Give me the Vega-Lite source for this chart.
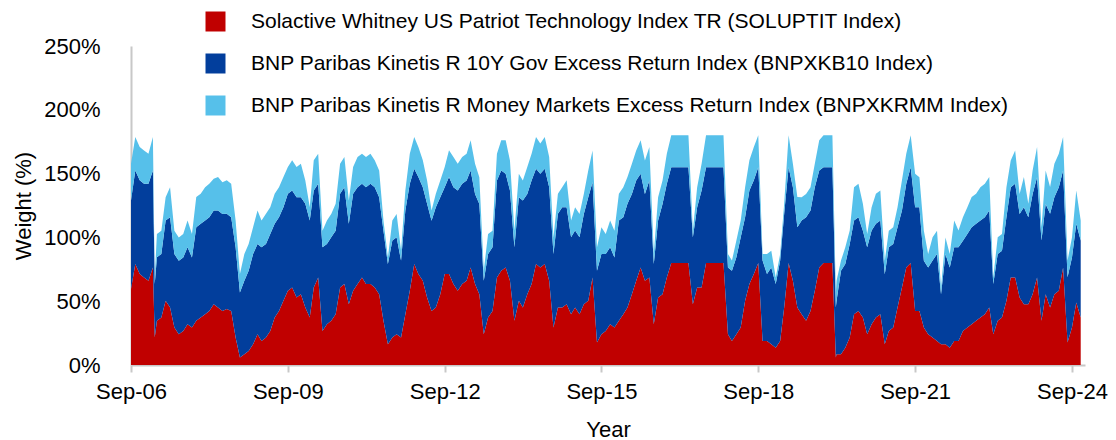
{
"$schema": "https://vega.github.io/schema/vega-lite/v6.json",
"width": 954, "height": 319,
"autosize": {"type": "none"},
"padding": {"left": 131, "top": 46, "right": 31, "bottom": 75},
"background": "white",
"config": {"view": {"stroke": null}, "font": "Liberation Sans"},
"data": {"values": [
{"d":"2006-09-01","w1":59.5,"w2":69.4,"w3":28.8},
{"d":"2006-10-01","w1":79.1,"w2":73.4,"w3":26.2},
{"d":"2006-11-01","w1":71.3,"w2":73.4,"w3":26.2},
{"d":"2006-12-01","w1":68.6,"w2":73.4,"w3":26.2},
{"d":"2007-01-01","w1":66.0,"w2":76.0,"w3":23.6},
{"d":"2007-02-01","w1":76.5,"w2":76.0,"w3":26.2},
{"d":"2007-02-14","w1":21.5,"w2":41.9,"w3":5.2},
{"d":"2007-03-01","w1":34.6,"w2":49.8,"w3":18.3},
{"d":"2007-04-01","w1":37.2,"w2":49.8,"w3":18.3},
{"d":"2007-05-01","w1":50.3,"w2":62.9,"w3":18.3},
{"d":"2007-06-01","w1":45.1,"w2":70.7,"w3":23.6},
{"d":"2007-07-01","w1":29.3,"w2":57.6,"w3":18.3},
{"d":"2007-08-01","w1":24.1,"w2":57.6,"w3":18.3},
{"d":"2007-09-01","w1":26.7,"w2":57.6,"w3":18.3},
{"d":"2007-10-01","w1":32.0,"w2":60.3,"w3":21.0},
{"d":"2007-11-01","w1":29.3,"w2":55.0,"w3":18.3},
{"d":"2007-12-01","w1":34.6,"w2":73.4,"w3":23.6},
{"d":"2008-01-01","w1":37.2,"w2":73.4,"w3":23.6},
{"d":"2008-02-01","w1":39.8,"w2":73.4,"w3":26.2},
{"d":"2008-03-01","w1":42.4,"w2":73.4,"w3":26.2},
{"d":"2008-04-01","w1":47.7,"w2":73.4,"w3":24.9},
{"d":"2008-05-01","w1":45.1,"w2":76.0,"w3":26.2},
{"d":"2008-06-01","w1":42.4,"w2":76.0,"w3":24.9},
{"d":"2008-07-01","w1":43.8,"w2":74.7,"w3":26.2},
{"d":"2008-08-01","w1":42.4,"w2":73.4,"w3":26.2},
{"d":"2008-09-01","w1":21.5,"w2":70.7,"w3":21.0},
{"d":"2008-10-01","w1":5.8,"w2":51.1,"w3":14.4},
{"d":"2008-11-01","w1":8.4,"w2":57.6,"w3":21.0},
{"d":"2008-12-01","w1":11.0,"w2":62.9,"w3":21.0},
{"d":"2009-01-01","w1":16.2,"w2":70.7,"w3":21.0},
{"d":"2009-02-01","w1":24.1,"w2":70.7,"w3":26.2},
{"d":"2009-03-01","w1":18.9,"w2":73.4,"w3":21.0},
{"d":"2009-04-01","w1":21.5,"w2":73.4,"w3":23.6},
{"d":"2009-05-01","w1":26.7,"w2":76.0,"w3":21.0},
{"d":"2009-06-01","w1":37.2,"w2":73.4,"w3":23.6},
{"d":"2009-07-01","w1":42.4,"w2":73.4,"w3":23.6},
{"d":"2009-08-01","w1":50.3,"w2":73.4,"w3":23.6},
{"d":"2009-09-01","w1":58.2,"w2":76.0,"w3":21.0},
{"d":"2009-10-01","w1":60.8,"w2":76.0,"w3":23.6},
{"d":"2009-11-01","w1":52.9,"w2":78.6,"w3":23.6},
{"d":"2009-12-01","w1":55.5,"w2":76.0,"w3":26.2},
{"d":"2010-01-01","w1":45.1,"w2":81.2,"w3":18.3},
{"d":"2010-02-01","w1":37.2,"w2":76.0,"w3":10.5},
{"d":"2010-03-01","w1":60.8,"w2":76.0,"w3":23.6},
{"d":"2010-04-01","w1":68.6,"w2":73.4,"w3":23.6},
{"d":"2010-05-01","w1":26.7,"w2":65.5,"w3":13.1},
{"d":"2010-06-01","w1":32.0,"w2":62.9,"w3":18.3},
{"d":"2010-07-01","w1":34.6,"w2":65.5,"w3":18.3},
{"d":"2010-08-01","w1":39.8,"w2":65.5,"w3":21.0},
{"d":"2010-09-01","w1":60.8,"w2":73.4,"w3":23.6},
{"d":"2010-10-01","w1":63.4,"w2":76.0,"w3":23.6},
{"d":"2010-11-01","w1":47.7,"w2":62.9,"w3":18.3},
{"d":"2010-12-01","w1":58.2,"w2":76.0,"w3":21.0},
{"d":"2011-01-01","w1":63.4,"w2":76.0,"w3":23.6},
{"d":"2011-02-01","w1":68.6,"w2":73.4,"w3":23.6},
{"d":"2011-03-01","w1":63.4,"w2":76.0,"w3":23.6},
{"d":"2011-04-01","w1":63.4,"w2":78.6,"w3":23.6},
{"d":"2011-05-01","w1":60.8,"w2":78.6,"w3":21.0},
{"d":"2011-06-01","w1":55.5,"w2":76.0,"w3":21.0},
{"d":"2011-07-01","w1":34.6,"w2":70.7,"w3":7.9},
{"d":"2011-08-01","w1":16.2,"w2":62.9,"w3":5.2},
{"d":"2011-09-01","w1":21.5,"w2":76.0,"w3":15.7},
{"d":"2011-10-01","w1":24.1,"w2":76.0,"w3":18.3},
{"d":"2011-11-01","w1":21.5,"w2":60.3,"w3":7.9},
{"d":"2011-12-01","w1":39.8,"w2":81.2,"w3":15.7},
{"d":"2012-01-01","w1":58.2,"w2":83.8,"w3":23.6},
{"d":"2012-02-01","w1":79.1,"w2":74.7,"w3":24.9},
{"d":"2012-03-01","w1":71.3,"w2":76.0,"w3":23.6},
{"d":"2012-04-01","w1":66.0,"w2":73.4,"w3":21.0},
{"d":"2012-05-01","w1":52.9,"w2":73.4,"w3":18.3},
{"d":"2012-06-01","w1":42.4,"w2":70.7,"w3":7.9},
{"d":"2012-07-01","w1":45.1,"w2":78.6,"w3":10.5},
{"d":"2012-08-01","w1":55.5,"w2":76.0,"w3":13.1},
{"d":"2012-09-01","w1":71.3,"w2":68.1,"w3":15.7},
{"d":"2012-10-01","w1":71.3,"w2":76.0,"w3":21.0},
{"d":"2012-11-01","w1":63.4,"w2":76.0,"w3":23.6},
{"d":"2012-12-01","w1":58.2,"w2":78.6,"w3":21.0},
{"d":"2013-01-01","w1":63.4,"w2":78.6,"w3":21.0},
{"d":"2013-02-01","w1":66.0,"w2":78.6,"w3":21.0},
{"d":"2013-03-01","w1":76.5,"w2":76.0,"w3":23.6},
{"d":"2013-04-01","w1":63.4,"w2":70.7,"w3":23.6},
{"d":"2013-05-01","w1":55.5,"w2":70.7,"w3":21.0},
{"d":"2013-06-01","w1":24.1,"w2":41.9,"w3":7.9},
{"d":"2013-07-01","w1":37.2,"w2":49.8,"w3":15.7},
{"d":"2013-08-01","w1":42.4,"w2":49.8,"w3":13.1},
{"d":"2013-09-01","w1":68.6,"w2":76.0,"w3":21.0},
{"d":"2013-10-01","w1":73.9,"w2":78.6,"w3":23.6},
{"d":"2013-11-01","w1":76.5,"w2":73.4,"w3":26.2},
{"d":"2013-12-01","w1":66.0,"w2":70.7,"w3":23.6},
{"d":"2014-01-01","w1":34.6,"w2":57.6,"w3":13.1},
{"d":"2014-02-01","w1":50.3,"w2":81.2,"w3":18.3},
{"d":"2014-03-01","w1":45.1,"w2":83.8,"w3":15.7},
{"d":"2014-04-01","w1":55.5,"w2":78.6,"w3":21.0},
{"d":"2014-05-01","w1":63.4,"w2":81.2,"w3":21.0},
{"d":"2014-06-01","w1":79.1,"w2":74.7,"w3":24.9},
{"d":"2014-07-01","w1":76.5,"w2":73.4,"w3":23.6},
{"d":"2014-08-01","w1":79.1,"w2":74.7,"w3":24.9},
{"d":"2014-09-01","w1":66.0,"w2":73.4,"w3":23.6},
{"d":"2014-10-01","w1":29.3,"w2":57.6,"w3":13.1},
{"d":"2014-11-01","w1":45.1,"w2":73.4,"w3":15.7},
{"d":"2014-12-01","w1":45.1,"w2":78.6,"w3":15.7},
{"d":"2015-01-01","w1":47.7,"w2":76.0,"w3":21.0},
{"d":"2015-02-01","w1":39.8,"w2":60.3,"w3":13.1},
{"d":"2015-03-01","w1":45.1,"w2":60.3,"w3":18.3},
{"d":"2015-04-01","w1":39.8,"w2":60.3,"w3":18.3},
{"d":"2015-05-01","w1":47.7,"w2":70.7,"w3":15.7},
{"d":"2015-06-01","w1":50.3,"w2":81.2,"w3":21.0},
{"d":"2015-07-01","w1":68.6,"w2":74.7,"w3":24.9},
{"d":"2015-08-01","w1":17.6,"w2":56.3,"w3":18.3},
{"d":"2015-09-01","w1":24.1,"w2":62.9,"w3":21.0},
{"d":"2015-10-01","w1":26.7,"w2":60.3,"w3":15.7},
{"d":"2015-11-01","w1":32.0,"w2":60.3,"w3":21.0},
{"d":"2015-12-01","w1":29.3,"w2":55.0,"w3":21.0},
{"d":"2016-01-01","w1":34.6,"w2":78.6,"w3":21.0},
{"d":"2016-02-01","w1":39.8,"w2":76.0,"w3":23.6},
{"d":"2016-03-01","w1":45.1,"w2":81.2,"w3":21.0},
{"d":"2016-04-01","w1":55.5,"w2":78.6,"w3":23.6},
{"d":"2016-05-01","w1":66.0,"w2":78.6,"w3":23.6},
{"d":"2016-06-01","w1":76.5,"w2":73.4,"w3":26.2},
{"d":"2016-07-01","w1":66.0,"w2":68.1,"w3":26.2},
{"d":"2016-08-01","w1":68.6,"w2":76.0,"w3":26.2},
{"d":"2016-09-01","w1":32.0,"w2":47.2,"w3":7.9},
{"d":"2016-10-01","w1":52.9,"w2":60.3,"w3":18.3},
{"d":"2016-11-01","w1":55.5,"w2":70.7,"w3":18.3},
{"d":"2016-12-01","w1":68.6,"w2":73.4,"w3":23.6},
{"d":"2017-01-01","w1":80,"w2":75,"w3":25},
{"d":"2017-02-01","w1":80,"w2":75,"w3":25},
{"d":"2017-03-01","w1":80,"w2":75,"w3":25},
{"d":"2017-04-01","w1":80,"w2":75,"w3":25},
{"d":"2017-05-01","w1":80,"w2":75,"w3":25},
{"d":"2017-06-01","w1":47.7,"w2":52.4,"w3":5.2},
{"d":"2017-07-01","w1":60.8,"w2":62.9,"w3":15.7},
{"d":"2017-08-01","w1":60.8,"w2":76.0,"w3":21.0},
{"d":"2017-09-01","w1":80,"w2":75,"w3":25},
{"d":"2017-10-01","w1":80,"w2":75,"w3":25},
{"d":"2017-11-01","w1":80,"w2":75,"w3":25},
{"d":"2017-12-01","w1":80,"w2":75,"w3":25},
{"d":"2018-01-01","w1":80,"w2":75,"w3":25},
{"d":"2018-02-01","w1":24.1,"w2":52.4,"w3":10.5},
{"d":"2018-03-01","w1":18.9,"w2":55.0,"w3":7.9},
{"d":"2018-04-01","w1":24.1,"w2":60.3,"w3":13.1},
{"d":"2018-05-01","w1":29.3,"w2":70.7,"w3":13.1},
{"d":"2018-06-01","w1":50.3,"w2":65.5,"w3":23.6},
{"d":"2018-07-01","w1":63.4,"w2":73.4,"w3":23.6},
{"d":"2018-08-01","w1":71.3,"w2":73.4,"w3":26.2},
{"d":"2018-09-01","w1":80,"w2":75,"w3":25},
{"d":"2018-10-01","w1":18.9,"w2":62.9,"w3":5.2},
{"d":"2018-11-01","w1":18.9,"w2":52.4,"w3":15.7},
{"d":"2018-12-01","w1":16.2,"w2":60.3,"w3":13.1},
{"d":"2019-01-01","w1":13.6,"w2":49.8,"w3":5.2},
{"d":"2019-02-01","w1":18.9,"w2":62.9,"w3":5.2},
{"d":"2019-03-01","w1":45.1,"w2":73.4,"w3":7.9},
{"d":"2019-04-01","w1":80,"w2":75,"w3":25},
{"d":"2019-05-01","w1":66.0,"w2":73.4,"w3":18.3},
{"d":"2019-06-01","w1":45.1,"w2":62.9,"w3":23.6},
{"d":"2019-07-01","w1":39.8,"w2":73.4,"w3":18.3},
{"d":"2019-08-01","w1":34.6,"w2":81.2,"w3":18.3},
{"d":"2019-09-01","w1":42.4,"w2":78.6,"w3":18.3},
{"d":"2019-10-01","w1":58.2,"w2":81.2,"w3":18.3},
{"d":"2019-11-01","w1":76.5,"w2":76.0,"w3":23.6},
{"d":"2019-12-01","w1":80,"w2":75,"w3":25},
{"d":"2020-01-01","w1":80,"w2":75,"w3":25},
{"d":"2020-02-01","w1":80,"w2":75,"w3":25},
{"d":"2020-02-25","w1":5.8,"w2":39.3,"w3":10.5},
{"d":"2020-03-01","w1":8.4,"w2":41.9,"w3":15.7},
{"d":"2020-04-01","w1":8.4,"w2":65.5,"w3":7.9},
{"d":"2020-05-01","w1":13.6,"w2":65.5,"w3":13.1},
{"d":"2020-06-01","w1":21.5,"w2":73.4,"w3":10.5},
{"d":"2020-07-01","w1":39.8,"w2":73.4,"w3":26.2},
{"d":"2020-08-01","w1":42.4,"w2":73.4,"w3":26.2},
{"d":"2020-09-01","w1":37.2,"w2":68.1,"w3":21.0},
{"d":"2020-10-01","w1":24.1,"w2":68.1,"w3":10.5},
{"d":"2020-11-01","w1":32.0,"w2":73.4,"w3":18.3},
{"d":"2020-12-01","w1":37.2,"w2":73.4,"w3":23.6},
{"d":"2021-01-01","w1":39.8,"w2":73.4,"w3":23.6},
{"d":"2021-02-01","w1":16.2,"w2":55.0,"w3":10.5},
{"d":"2021-03-01","w1":26.7,"w2":65.5,"w3":13.1},
{"d":"2021-04-01","w1":29.3,"w2":65.5,"w3":13.1},
{"d":"2021-05-01","w1":45.1,"w2":62.9,"w3":15.7},
{"d":"2021-06-01","w1":60.8,"w2":60.3,"w3":23.6},
{"d":"2021-07-01","w1":76.5,"w2":65.5,"w3":23.6},
{"d":"2021-08-01","w1":80,"w2":75,"w3":25},
{"d":"2021-09-01","w1":42.4,"w2":81.2,"w3":26.2},
{"d":"2021-10-01","w1":42.4,"w2":81.2,"w3":23.6},
{"d":"2021-11-01","w1":29.3,"w2":52.4,"w3":23.6},
{"d":"2021-12-01","w1":24.1,"w2":52.4,"w3":10.5},
{"d":"2022-01-01","w1":21.5,"w2":60.3,"w3":18.3},
{"d":"2022-02-01","w1":18.9,"w2":68.1,"w3":18.3},
{"d":"2022-03-01","w1":16.2,"w2":39.3,"w3":5.2},
{"d":"2022-04-01","w1":16.2,"w2":70.7,"w3":13.1},
{"d":"2022-05-01","w1":13.6,"w2":62.9,"w3":10.5},
{"d":"2022-06-01","w1":18.9,"w2":73.4,"w3":21.0},
{"d":"2022-07-01","w1":18.9,"w2":73.4,"w3":13.1},
{"d":"2022-08-01","w1":26.7,"w2":70.7,"w3":18.3},
{"d":"2022-09-01","w1":29.3,"w2":73.4,"w3":21.0},
{"d":"2022-10-01","w1":32.0,"w2":76.0,"w3":23.6},
{"d":"2022-11-01","w1":34.6,"w2":76.0,"w3":23.6},
{"d":"2022-12-01","w1":37.2,"w2":76.0,"w3":26.2},
{"d":"2023-01-01","w1":39.8,"w2":76.0,"w3":26.2},
{"d":"2023-02-01","w1":45.1,"w2":76.0,"w3":26.2},
{"d":"2023-03-01","w1":24.1,"w2":39.3,"w3":5.2},
{"d":"2023-04-01","w1":34.6,"w2":52.4,"w3":13.1},
{"d":"2023-05-01","w1":37.2,"w2":52.4,"w3":13.1},
{"d":"2023-06-01","w1":50.3,"w2":65.5,"w3":23.6},
{"d":"2023-07-01","w1":68.6,"w2":70.7,"w3":21.0},
{"d":"2023-08-01","w1":68.6,"w2":73.4,"w3":26.2},
{"d":"2023-09-01","w1":52.9,"w2":65.5,"w3":15.7},
{"d":"2023-10-01","w1":47.7,"w2":76.0,"w3":23.6},
{"d":"2023-11-01","w1":47.7,"w2":68.1,"w3":10.5},
{"d":"2023-12-01","w1":55.5,"w2":78.6,"w3":18.3},
{"d":"2024-01-01","w1":68.6,"w2":78.6,"w3":23.6},
{"d":"2024-02-01","w1":34.6,"w2":62.9,"w3":10.5},
{"d":"2024-03-01","w1":55.5,"w2":70.7,"w3":26.2},
{"d":"2024-04-01","w1":45.1,"w2":73.4,"w3":21.0},
{"d":"2024-05-01","w1":55.5,"w2":76.0,"w3":26.2},
{"d":"2024-06-01","w1":58.2,"w2":81.2,"w3":26.2},
{"d":"2024-07-01","w1":76.5,"w2":76.0,"w3":26.2},
{"d":"2024-08-01","w1":17.6,"w2":51.1,"w3":13.1},
{"d":"2024-09-01","w1":29.3,"w2":55.0,"w3":15.7},
{"d":"2024-10-01","w1":49.0,"w2":61.6,"w3":26.2},
{"d":"2024-11-01","w1":37.2,"w2":60.3,"w3":15.7}
]},
"transform": [{"fold": ["w1", "w2", "w3"], "as": ["key", "value"]}],
"mark": {"type": "area", "opacity": 1, "interpolate": "linear"},
"encoding": {
  "x": {"field": "d", "type": "temporal",
    "scale": {"type": "utc", "domain": [{"year": 2006, "month": "sep", "date": 1, "utc": true}, {"year": 2024, "month": "dec", "date": 1, "utc": true}]},
    "axis": {"title": "Year", "values": [
      {"year": 2006, "month": "sep", "date": 1, "utc": true},
      {"year": 2009, "month": "sep", "date": 1, "utc": true},
      {"year": 2012, "month": "sep", "date": 1, "utc": true},
      {"year": 2015, "month": "sep", "date": 1, "utc": true},
      {"year": 2018, "month": "sep", "date": 1, "utc": true},
      {"year": 2021, "month": "sep", "date": 1, "utc": true},
      {"year": 2024, "month": "sep", "date": 1, "utc": true}],
      "format": "%b-%y", "labelFlush": false, "labelOverlap": false, "grid": false,
      "domainColor": "#C8C8C8", "domainWidth": 2, "tickColor": "#C8C8C8", "tickWidth": 2, "tickSize": 7,
      "labelFontSize": 22, "labelColor": "black", "labelPadding": 9,
      "titleFontSize": 22, "titleFontWeight": "normal", "titleColor": "black", "titlePadding": 17}},
  "y": {"field": "value", "type": "quantitative", "stack": "zero",
    "scale": {"domain": [0, 250], "nice": false},
    "axis": {"title": "Weight (%)", "values": [0, 50, 100, 150, 200, 250], "labelExpr": "datum.value + '%'",
      "ticks": false, "grid": false, "domainColor": "#C8C8C8", "domainWidth": 2,
      "labelFontSize": 22, "labelColor": "black", "labelPadding": 31,
      "titleFontSize": 22, "titleFontWeight": "normal", "titleColor": "black", "titlePadding": 8}},
  "color": {"field": "key", "type": "nominal",
    "scale": {"domain": ["w1", "w2", "w3"], "range": ["#C00000", "#023E9C", "#56C0EA"]},
    "legend": {"orient": "none", "legendX": 74, "legendY": -35, "title": null, "padding": 0,
      "symbolType": "square", "symbolSize": 400, "symbolStrokeWidth": 0, "symbolOpacity": 1,
      "labelFontSize": 21, "labelColor": "black", "labelOffset": 25, "labelLimit": 1000, "rowPadding": 20,
      "labelExpr": "datum.value == 'w1' ? 'Solactive Whitney US Patriot Technology Index TR (SOLUPTIT Index)' : datum.value == 'w2' ? 'BNP Paribas Kinetis R 10Y Gov Excess Return Index (BNPXKB10 Index)' : 'BNP Paribas Kinetis R Money Markets Excess Return Index (BNPXKRMM Index)'"}},
  "order": {"field": "key", "sort": "ascending"}
}
}
